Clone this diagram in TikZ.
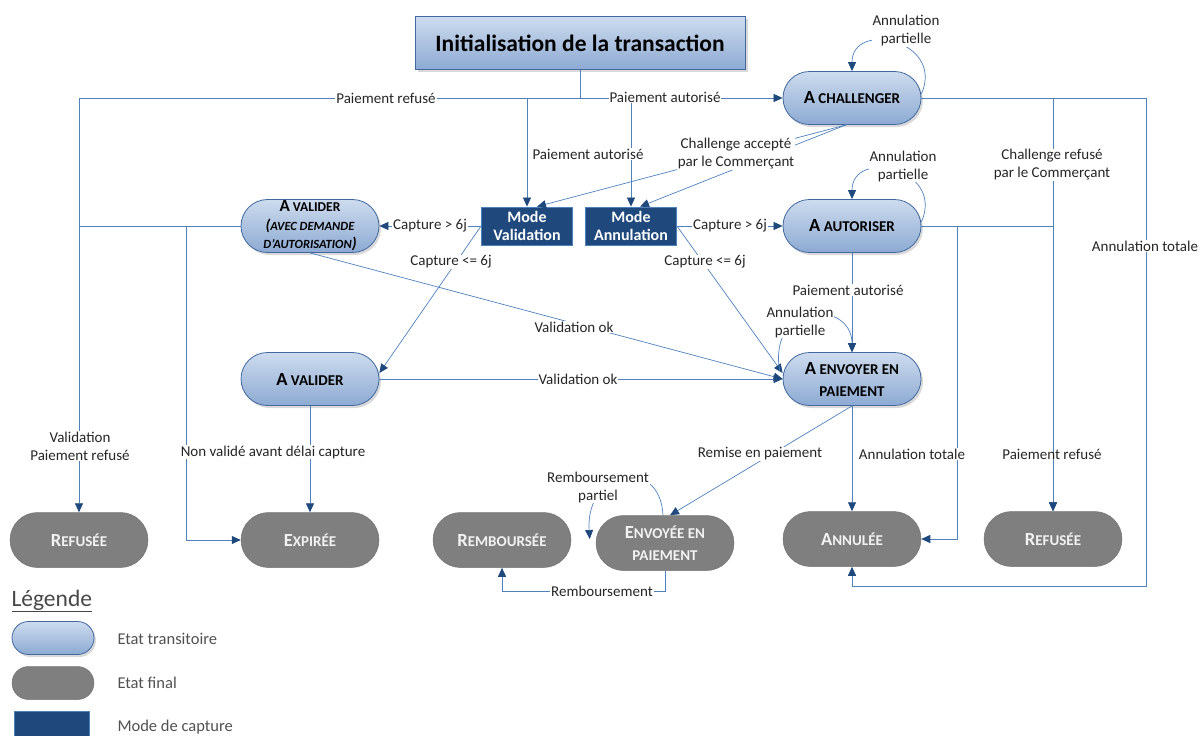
\documentclass[tikz,border=0pt]{standalone}
\usepackage{fontspec}
\setmainfont{Carlito}
\usetikzlibrary{arrows.meta,shapes.misc,shadows,calc}
\definecolor{lineblue}{RGB}{79,129,189}
\definecolor{navy}{RGB}{31,73,125}
\definecolor{ptop}{RGB}{205,219,238}
\definecolor{pbot}{RGB}{141,170,210}
\definecolor{pborder}{RGB}{65,105,160}
\definecolor{fgray}{RGB}{127,127,127}
\definecolor{txt}{RGB}{38,38,38}
\newcommand{\BL}[1]{{\fontsize{18.5}{22}\selectfont #1}}
\newcommand{\SL}[1]{{\fontsize{15}{22}\selectfont #1}}
\tikzset{
 trans/.style={rounded rectangle, minimum width=138pt, minimum height=53pt, inner sep=0pt,
   top color=ptop, bottom color=pbot, draw=pborder, line width=0.8pt,
   drop shadow={opacity=0.3,shadow xshift=2pt,shadow yshift=-2.5pt},
   align=center, font=\bfseries\fontsize{15}{22}\selectfont, text=black},
 final/.style={rounded rectangle, minimum width=138pt, minimum height=55pt, inner sep=0pt,
   fill=fgray, draw=fgray!92!black, line width=0.5pt, align=center,
   font=\bfseries\fontsize{15}{22}\selectfont, text=white!95!black},
 modebox/.style={rectangle, minimum width=91pt, minimum height=38pt, inner sep=0pt, fill=navy,
   draw=lineblue, line width=0.8pt, text=white, align=center,
   font=\bfseries\fontsize{16}{17.5}\selectfont},
 titlebox/.style={rectangle, minimum width=330pt, minimum height=53pt, inner sep=0pt,
   top color=ptop, bottom color=pbot, draw=pborder, line width=0.8pt,
   drop shadow={opacity=0.3,shadow xshift=2.5pt,shadow yshift=-2.5pt},
   font=\bfseries\fontsize{23.5}{27}\selectfont, text=black},
 lbl/.style={fill=white, text=txt, inner sep=1pt, align=center, font=\fontsize{15}{18}\selectfont},
 conn/.style={draw=lineblue, line width=0.7pt},
 arr/.style={conn, -{Triangle[length=9pt,width=8pt,color=navy]}},
 leg/.style={anchor=west, text=txt!80, font=\fontsize{16.5}{19}\selectfont},
}
\begin{document}
\begin{tikzpicture}[x=1pt,y=-1pt]
\useasboundingbox (0,0) rectangle (1203,736);
% nodes
\node[titlebox] (title) at (580,43) {Initialisation de la transaction};
\node[trans] (chal) at (852,98) {\BL{A} \SL{CHALLENGER}};
\node[trans, font=\bfseries\fontsize{13.5}{18.5}\selectfont] (avd) at (310,226)
  {{\fontsize{17}{18.5}\selectfont A} VALIDER\\
   {\itshape{\fontsize{15.5}{18.5}\selectfont (}{\fontsize{12.5}{18.5}\selectfont AVEC DEMANDE}}\\
   {\itshape{\fontsize{12.5}{18.5}\selectfont D’AUTORISATION}{\fontsize{15.5}{18.5}\selectfont )}}};
\node[modebox] (mv) at (527,226) {Mode\\Validation};
\node[modebox] (ma) at (631,226) {Mode\\Annulation};
\node[trans] (aut) at (852,226) {\BL{A} \SL{AUTORISER}};
\node[trans] (av) at (310,379) {\BL{A} \SL{VALIDER}};
\node[trans] (env) at (852,379) {\BL{A} \SL{ENVOYER EN}\\\SL{PAIEMENT}};
\node[final] (refL) at (79,540) {\BL{R}\SL{EFUSÉE}};
\node[final] (exp) at (310,540) {\BL{E}\SL{XPIRÉE}};
\node[final] (remb) at (502,540) {\BL{R}\SL{EMBOURSÉE}};
\node[final] (envp) at (665,543) {\BL{E}\SL{NVOYÉE EN}\\\SL{PAIEMENT}};
\node[final] (annul) at (852,539) {\BL{A}\SL{NNULÉE}};
\node[final] (refR) at (1053,539) {\BL{R}\SL{EFUSÉE}};
% connectors
\coordinate (j0) at (580,98);
\draw[conn] (title.south) -- (j0);
\draw[arr] (j0) -- (refL.north |- j0) -- (refL.north);
\draw[arr] (j0) -- (mv.north |- j0) -- (mv.north);
\draw[arr] (j0) -- (chal.west);
\draw[arr] (ma.north |- j0) -- (ma.north);
\draw[arr] ([xshift=-6pt]chal.south) -- ([xshift=10pt]mv.north);
\draw[arr] ([xshift=-6pt]chal.south) -- ([xshift=9pt]ma.north);
\draw[arr] (mv.west) -- (avd.east);
\draw[arr] (mv.west) -- ([yshift=6pt]av.east);
\draw[arr] (ma.east) -- (aut.west);
\draw[arr] (ma.east) -- ([yshift=6pt]env.west);
\draw[arr] (avd.south) -- (env.west);
\draw[arr] (av.east) -- (env.west);
\draw[arr] (aut.south) -- (env.north);
\draw[arr] (aut.east) -- ++(36,0) |- (annul.east);
\draw[arr] (aut.east) -- (refR.north |- aut.east) -- (refR.north);
\draw[arr] (chal.east) -- (refR.north |- chal.east) -- (refR.north);
\coordinate (rr) at (1146,586);
\draw[arr] (chal.east) -- (chal.east -| rr) -- (rr) -- (annul.south |- rr) -- (annul.south);
\draw[arr] (env.south) -- (annul.north);
\draw[arr] (env.south) -- ([xshift=5pt]envp.north);
\draw[arr] (envp.south) -- ++(0,21) -| (remb.south);
\draw[conn] (avd.west) -- (refL.north |- avd.west);
\draw[arr] (avd.west) -- ++(-54,0) |- (exp.west);
\draw[arr] (av.south) -- (exp.north);
% self loops
\draw[arr] ([yshift=4pt]chal.east) .. controls (945,40) and (852,20) .. (chal.north);
\draw[arr] ([yshift=4pt]aut.east) .. controls (945,168) and (852,148) .. (aut.north);
\draw[arr] ([xshift=-3pt,yshift=8pt]env.west) .. controls (768,300) and (852,300) .. (env.north);
\draw[arr] ([xshift=-2pt]envp.north) .. controls (660,455) and (585,470) .. ([xshift=-6pt,yshift=4pt]envp.west);
% labels
\node[lbl] (l1) at (386,98) {Paiement refusé};
\node[lbl] (l2) at (665,97) {Paiement autorisé};
\node[lbl] (l3) at (588,154) {Paiement autorisé};
\node[lbl] (l4) at (736,154) {Challenge accepté\\par le Commerçant};
\node[lbl] (l5) at (906,31) {Annulation\\partielle};
\node[lbl] (l6) at (903,166) {Annulation\\partielle};
\node[lbl] (l7) at (1052,165) {Challenge refusé\\par le Commerçant};
\node[lbl] (l8) at (1145,246) {Annulation totale};
\node[lbl] (l9) at (430,226) {Capture > 6j};
\node[lbl] (l10) at (730,226) {Capture > 6j};
\node[lbl] (l11) at (451,262) {Capture <= 6j};
\node[lbl] (l12) at (705,262) {Capture <= 6j};
\node[lbl] (l13) at (574,327) {Validation ok};
\node[lbl] (l14) at (578,379) {Validation ok};
\node[lbl] (l15) at (848,290) {Paiement autorisé};
\node[lbl] (l16) at (800,322) {Annulation\\partielle};
\node[lbl] (l17) at (80,446) {Validation\\Paiement refusé};
\node[lbl] (l18) at (273,452) {Non validé avant délai capture};
\node[lbl] (l19) at (760,454) {Remise en paiement};
\node[lbl] (l20) at (912,454) {Annulation totale};
\node[lbl, fill=none] (l21) at (1052,454) {Paiement refusé};
\node[lbl] (l22) at (598,487) {Remboursement\\partiel};
\node[lbl] (l23) at (602,591) {Remboursement};
% legend
\node[anchor=west, text=txt!85, font=\fontsize{23.5}{27}\selectfont] (legt) at (8,601) {\underline{Légende}};
\node[trans, minimum width=82pt, minimum height=33pt] (lg1) at (53,638) {};
\node[final, minimum width=82pt, minimum height=33pt] (lg2) at (53,683) {};
\node[modebox, minimum width=75pt, minimum height=36pt] (lg3) at (52,729) {};
\node[leg] (lt1) at (114,639) {Etat transitoire};
\node[leg] (lt2) at (114,683) {Etat final};
\node[leg] (lt3) at (114,727) {Mode de capture};
\end{tikzpicture}
\end{document}
